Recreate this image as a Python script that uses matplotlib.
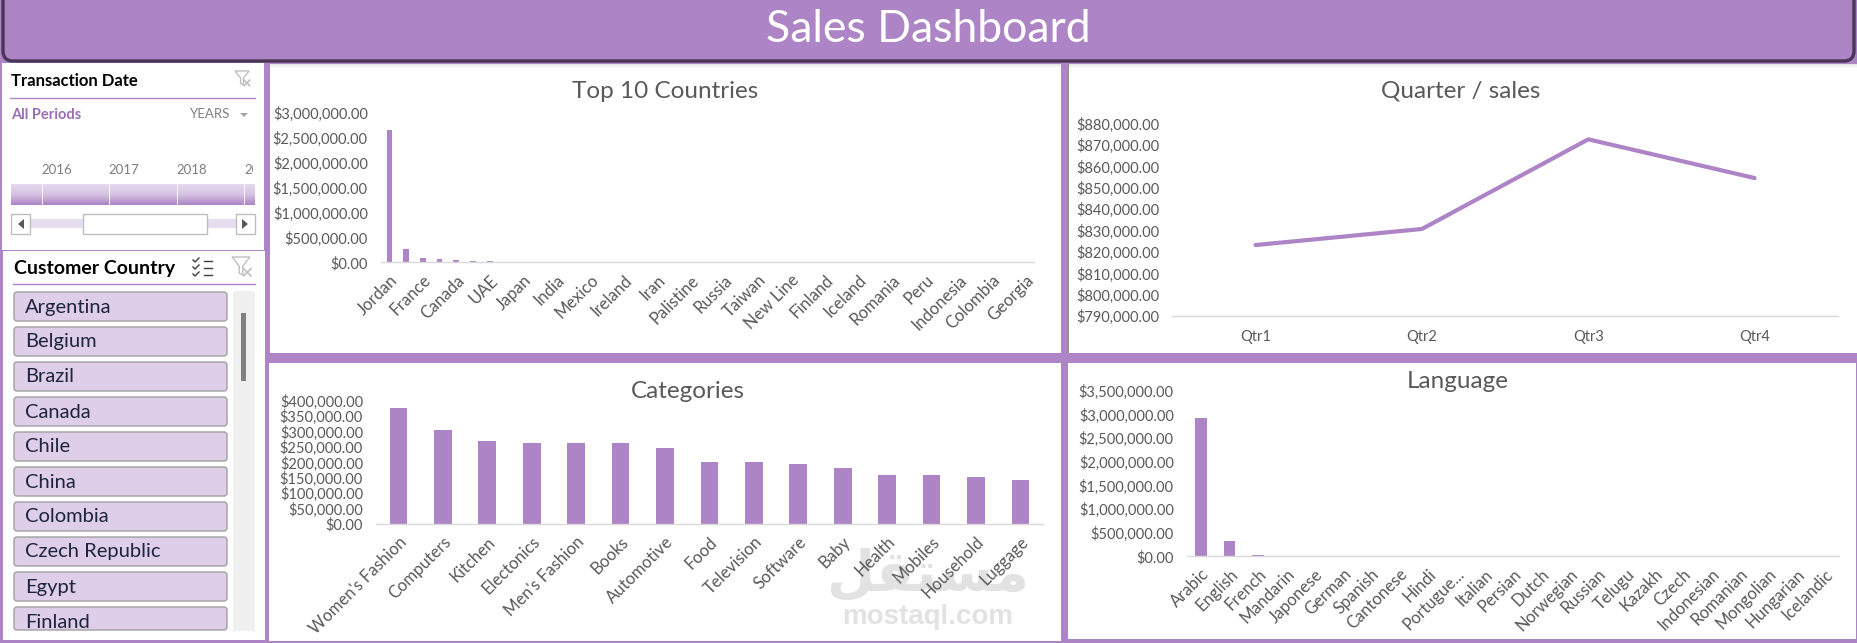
import numpy as np
import matplotlib
matplotlib.use('Agg')
import matplotlib.pyplot as plt
from matplotlib.patches import Rectangle, FancyBboxPatch, Polygon

plt.rcParams['font.family'] = ['Lato', 'DejaVu Sans']

W = 1857
H = 643
PURPLE = '#AD84C6'
GREY = '#595959'

# chart data
country_values = [2660000, 268000, 87000, 66000, 46000, 26000, 26000, 9000, 8000, 7000, 6000, 5000, 5000,
                  4000, 4000, 3000, 3000, 3000, 2000, 2000, 2000, 2000, 2000, 1500, 1500, 1500, 1000, 1000,
                  1000, 1000, 800, 800, 800, 600, 600, 500, 500, 400, 400]
country_labels = ['Jordan', 'France', 'Canada', 'UAE', 'Japan', 'India', 'Mexico', 'Ireland', 'Iran', 'Palistine',
                  'Russia', 'Taiwan', 'New Line', 'Finland', 'Iceland', 'Romania', 'Peru', 'Indonesia',
                  'Colombia', 'Georgia']
country_ticks = [0, 500000, 1000000, 1500000, 2000000, 2500000, 3000000]

quarters = ['Qtr1', 'Qtr2', 'Qtr3', 'Qtr4']
quarter_values = [823300, 830800, 872700, 854600]
quarter_ticks = [790000, 800000, 810000, 820000, 830000, 840000, 850000, 860000, 870000, 880000]

categories = ["Women's Fashion", 'Computers', 'Kitchen', 'Electonics', "Men's Fashion", 'Books', 'Automotive',
              'Food', 'Television', 'Software', 'Baby', 'Health', 'Mobiles', 'Household', 'Luggage']
category_values = [376000, 305000, 269000, 263000, 263000, 263000, 246000, 201000, 201000, 195000, 182000,
                   159000, 159000, 152000, 143000]
category_ticks = [0, 50000, 100000, 150000, 200000, 250000, 300000, 350000, 400000]

languages = ['Arabic', 'English', 'French', 'Mandarin', 'Japonese', 'German', 'Spanish', 'Cantonese', 'Hindi',
             'Portugue...', 'Italian', 'Persian', 'Dutch', 'Norwegian', 'Russian', 'Telugu', 'Kazakh', 'Czech',
             'Indonesian', 'Romanian', 'Mongolian', 'Hungarian', 'Icelandic']
language_values = [2930000, 325000, 28000, 6000, 5000, 4000, 3000, 3000, 2000, 2000, 2000, 1500, 1500, 1000,
                   1000, 1000, 800, 800, 600, 600, 500, 400, 300]
language_ticks = [0, 500000, 1000000, 1500000, 2000000, 2500000, 3000000, 3500000]

slicer_countries = ['Argentina', 'Belgium', 'Brazil', 'Canada', 'Chile', 'China', 'Colombia', 'Czech Republic',
                    'Egypt', 'Finland']
slicer_years = ['2016', '2017', '2018', '2019']


def money(v):
    return '${:,.2f}'.format(v)


def chart_axes(x0, y0, x1, y1):
    a = fig.add_axes([x0 / W, 1 - y1 / H, (x1 - x0) / W, (y1 - y0) / H])
    a.patch.set_alpha(0)
    for s in ['top', 'left', 'right']:
        a.spines[s].set_visible(False)
    a.spines['bottom'].set_color('#D9D9D9')
    a.spines['bottom'].set_linewidth(1.0)
    return a


def style_y(a, ticks, pad=9.5):
    a.set_yticks(ticks)
    a.set_yticklabels([money(t) for t in ticks])
    a.set_ylim(ticks[0], ticks[-1])
    a.tick_params(axis='y', length=0, pad=pad, labelsize=10.5, labelcolor=GREY)


def rotated_labels(a, pos, labels, pad=6):
    a.set_xticks(pos)
    a.set_xticklabels(labels, rotation=45, ha='right', va='top', rotation_mode='anchor')
    a.tick_params(axis='x', length=0, pad=pad, labelsize=12, labelcolor=GREY)


def rect(x0, y0, x1, y1, color, z=1, **kw):
    bg.add_patch(Rectangle((x0, y0), x1 - x0, y1 - y0, facecolor=color, edgecolor=kw.pop('edge', 'none'),
                           linewidth=kw.pop('lw', 0), zorder=z))


fig = plt.figure(figsize=(W / 100, H / 100), dpi=100, facecolor=PURPLE)

# full size axes in pixels for the panels and the slicers
bg = fig.add_axes([0, 0, 1, 1])
bg.axis('off')

# chart panels
rect(270, 64, 1061, 353, 'white')
rect(1068, 64, 1857, 353, 'white')
rect(269, 363, 1061, 641, 'white')
rect(1068, 363, 1856, 639, 'white')
rect(1068, 64, 1069, 353, '#8C8C8C', z=2)

# slicer panels
rect(2, 63, 264, 250, 'white')
rect(3, 251, 265, 640, 'white')

# header
bg.add_patch(FancyBboxPatch((3, -30), 1851, 91, boxstyle='round,pad=0,rounding_size=10', facecolor=PURPLE,
                            edgecolor='#4B3557', linewidth=2.4, zorder=5))
for i, c in enumerate(['#E4E4E4', '#EEEEEE', '#F6F6F6', '#FBFBFB']):
    rect(270, 64 + i, 1061, 65 + i, c, z=2)
    rect(1069, 64 + i, 1857, 65 + i, c, z=2)
bg.text(928, 29, 'Sales Dashboard', color='white', fontsize=32, ha='center', va='center', zorder=6)

# date slicer
bg.text(11, 81, 'Transaction Date', fontsize=12, fontweight='bold', color='black', va='center')
bg.plot([10, 255], [97.5, 97.5], color=PURPLE, lw=1)
bg.text(11, 115, 'All Periods', fontsize=10.5, fontweight='bold', color='#9A6DB6', va='center')
bg.text(230, 114, 'YEARS', fontsize=9.5, color='#7F7F7F', va='center', ha='right')
bg.add_patch(Polygon([[240, 113], [248, 113], [244, 117]], facecolor='#A6A6A6'))
for x, y in zip([57, 124, 192, 259.5], slicer_years):
    t = bg.text(x, 170, y, fontsize=9.5, color='#7F7F7F', ha='center', va='center', clip_on=True)
    t.set_clip_path(Rectangle((11, 160), 242, 20, transform=bg.transData))
strip = np.linspace(0, 1, 32).reshape(-1, 1)
cm = matplotlib.colors.LinearSegmentedColormap.from_list('strip', ['#E6DAEE', '#D6C2E2', PURPLE])
bg.imshow(strip, extent=[11, 255, 205, 184], cmap=cm, aspect='auto', zorder=2)
for x in [41.5, 108.5, 176.5, 243.5]:
    bg.plot([x, x], [184, 205], color='white', lw=0.6, zorder=3)
rect(30, 219, 83, 228, '#E8DDF0')
rect(207, 219, 236, 228, '#E8DDF0')
for x0, x1 in [(11, 30), (83, 207), (236, 255)]:
    rect(x0, 214, x1, 234, 'white', z=3, edge='#BFBFBF', lw=1)
bg.add_patch(Polygon([[24, 219], [24, 229], [18, 224]], facecolor='#595959', zorder=4))
bg.add_patch(Polygon([[242, 219], [242, 229], [248, 224]], facecolor='#595959', zorder=4))


def funnel(x, y, s, color):
    bg.add_patch(Polygon([[x - s, y - s], [x + s, y - s], [x + 0.2 * s, y], [x + 0.2 * s, y + s],
                          [x - 0.2 * s, y + s * 0.8], [x - 0.2 * s, y]], facecolor='white', edgecolor=color, lw=1))
    bg.plot([x + s * 0.3, x + s * 1.1], [y + s * 0.3, y + s * 1.1], color=color, lw=1.2)
    bg.plot([x + s * 1.1, x + s * 0.3], [y + s * 0.3, y + s * 1.1], color=color, lw=1.2)


funnel(242, 78, 7, '#BFBFBF')

# country slicer
bg.text(13.5, 268.5, 'Customer Country', fontsize=14, fontweight='bold', color='black', va='center')
bg.plot([13, 255], [284, 284], color=PURPLE, lw=1)
for y in [261, 268, 275]:
    bg.plot([204, 212], [y, y], color='#404040', lw=1)
    bg.plot([193, 195, 199], [y - 1, y + 1, y - 3], color='#404040', lw=1)
funnel(241, 266, 9, '#BFBFBF')
rect(233, 291, 255, 631, '#F0F0F0')
rect(241, 313, 246, 381, '#808080', z=2)
for i, c in enumerate(slicer_countries):
    top = 291 + 35 * i
    bottom = min(top + 31, 631)
    bg.add_patch(FancyBboxPatch((14, top + 1), 213, bottom - top - 2, boxstyle='round,pad=0,rounding_size=3',
                                facecolor='#DFCEE8', edgecolor='#A0A0A0', linewidth=1, zorder=2))
    bg.text(25, top + 16, c, fontsize=14.5, color='#1D2440', va='center', zorder=3)
rect(10, 631, 230, 636, 'white', z=3)

# watermark
bg.text(928, 576, '\ufede\ufed8\ufe98\ufeb4\ufee3', family=['DejaVu Sans'], fontsize=40, fontweight='bold',
        color='#E2E2E2', ha='center', va='center', zorder=1.5)
bg.text(928, 617, 'mostaql.com', family=['Liberation Sans'], fontsize=20, fontweight='bold', color='#E2E2E2',
        ha='center', va='center', zorder=1.5)

bg.set_xlim(0, W)
bg.set_ylim(H, 0)

# titles
title_style = dict(fontsize=17.5, color=GREY, ha='center', va='center', zorder=6)
bg.text(665, 91, 'Top 10 Countries', **title_style)
bg.text(1461, 91, 'Quarter / sales', **title_style)
bg.text(688, 391, 'Categories', **title_style)
bg.text(1458, 382, 'Language', **title_style)

# top 10 countries
ax1 = chart_axes(381, 113.3, 1034, 262.3)
x1 = np.arange(len(country_values))
ax1.bar(x1, country_values, width=0.34, color=PURPLE)
ax1.set_xlim(-0.5, len(country_values) - 0.5)
style_y(ax1, country_ticks)
rotated_labels(ax1, x1[::2], country_labels, pad=7)

# quarter / sales
ax2 = chart_axes(1172.4, 123.7, 1837.8, 316.3)
ax2.plot(quarters, quarter_values, color=PURPLE, lw=3, solid_capstyle='round')
ax2.set_xlim(-0.5, 3.5)
style_y(ax2, quarter_ticks)
ax2.tick_params(axis='x', length=0, pad=10, labelsize=10.5, labelcolor=GREY)

# categories
ax3 = chart_axes(376.2, 400.7, 1042.6, 524)
x3 = np.arange(len(categories))
ax3.bar(x3, category_values, width=0.4, color=PURPLE)
ax3.set_xlim(-0.5, len(categories) - 0.5)
style_y(ax3, category_ticks)
rotated_labels(ax3, x3, categories, pad=7)

# language
ax4 = chart_axes(1187, 391, 1839, 556.3)
x4 = np.arange(len(languages))
ax4.bar(x4, language_values, width=0.41, color=PURPLE)
ax4.set_xlim(-0.5, len(languages) - 0.5)
style_y(ax4, language_ticks)
rotated_labels(ax4, x4, languages, pad=7)

fig.savefig('out.png', dpi=100, facecolor=PURPLE)
